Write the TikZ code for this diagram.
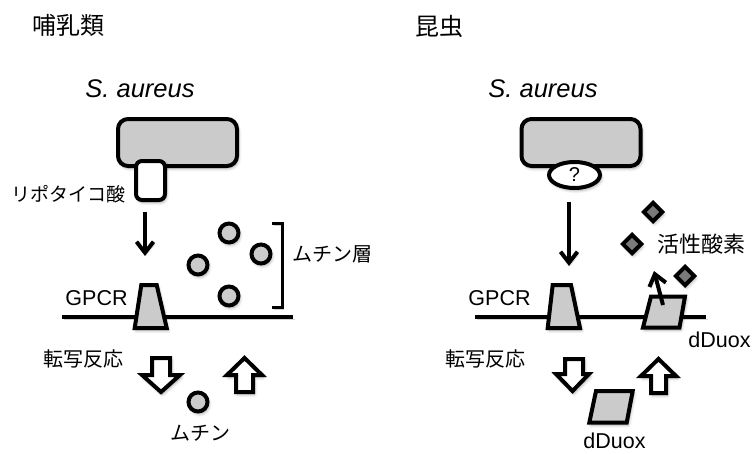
\documentclass[tikz,border=0pt]{standalone}
\usepackage{fontspec}
\setmainfont{Liberation Sans}
\newfontfamily\cjk{Noto Sans CJK JP}
\usetikzlibrary{shapes.geometric,arrows.meta,shadows.blur}
\definecolor{boxgray}{HTML}{CBCBCB}
\definecolor{dgray}{HTML}{7A7A7A}
\tikzset{
  shad/.style={blur shadow={shadow xshift=1.5pt,shadow yshift=-2.5pt,shadow blur radius=3pt,shadow opacity=35}},
  lshad/.style={preaction={draw=black,draw opacity=0.18,transform canvas={shift={(1.5pt,-2.5pt)}}}},
  bact/.style={draw,line width=4pt,fill=boxgray,rounded corners=10pt,minimum width=119pt,minimum height=47pt,inner sep=0pt,shad},
  ltabox/.style={draw,line width=4pt,fill=white,rounded corners=6pt,minimum width=29pt,minimum height=39pt,inner sep=0pt,shad},
  qell/.style={draw,line width=4pt,fill=white,ellipse,minimum width=51pt,minimum height=26pt,inner sep=0pt,shad,font=\fontsize{20}{20}\selectfont},
  mucin/.style={draw,line width=4pt,fill=boxgray,circle,minimum size=19pt,inner sep=0pt,shad},
  ros/.style={draw,line width=4pt,fill=dgray,diamond,minimum size=20pt,inner sep=0pt,shad},
  shapeline/.style={draw,line width=4pt,line join=miter,fill=boxgray,shad},
  blockarrow/.style={draw,line width=4pt,line join=miter,fill=white,shad},
  membrane/.style={line width=4pt,lshad},
  sig/.style={line width=4pt,-{Straight Barb[length=11pt,width=17pt,line width=4pt]},lshad},
  brack/.style={line width=3pt,lshad},
  jtitle/.style={font=\cjk\fontsize{24}{24}\selectfont,inner sep=0pt},
  jlab/.style={font=\cjk\fontsize{20}{20}\selectfont,inner sep=0pt},
  elab/.style={font=\fontsize{21.5}{21.5}\selectfont,inner sep=0pt},
  species/.style={font=\itshape\fontsize{25.5}{25.5}\selectfont,inner sep=0pt},
}
\begin{document}
\begin{tikzpicture}[x=1pt,y=-1pt]
\useasboundingbox (0,0) rectangle (753,453);

% ---------------- left panel: mammals ----------------
\node[jtitle] (mam) at (68,25) {哺乳類};
\node[species] (sa1) at (140,89) {S. aureus};
\draw[membrane] (62,317) coordinate (m1a) -- (293,317) coordinate (m1b);
\node[bact] (bact1) at (177.5,142.5) {};
\node[ltabox] (lta) at (150.5,180.5) {};
\node[jlab,font=\cjk\fontsize{19}{19}\selectfont] (ltalab) at (68.5,194) {リポタイコ酸};
\coordinate (a1s) at (145,212);
\coordinate (a1e) at (145,256);
\draw[sig] (a1s) -- (a1e);
\draw[shapeline] (141.3,285) -- (156.7,285) -- (166.7,328) -- (134.7,328) -- cycle;
\node[elab] (gpcr1) at (96.5,298) {GPCR};
\node[mucin] (c1) at (229,233) {};
\node[mucin] (c2) at (198,265) {};
\node[mucin] (c3) at (261,254) {};
\node[mucin] (c4) at (229,296) {};
\draw[brack] (272,223) -- (282,223) -- (282,307) -- (272,307);
\node[jlab] (mlayer) at (332,254) {ムチン層};
\node[jlab] (tr1) at (83,359) {転写反応};
\draw[blockarrow] (152,358) -- (170,358) -- (170,375) -- (180,375) -- (161,392) -- (142,375) -- (152,375) -- cycle;
\draw[blockarrow] (236,392) -- (253,392) -- (253,375) -- (262,375) -- (244.5,358) -- (227,375) -- (236,375) -- cycle;
\node[mucin] (c5) at (198,402) {};
\node[jlab] (muc) at (200,433) {ムチン};

% ---------------- right panel: insects ----------------
\node[jtitle] (ins) at (439.5,26) {昆虫};
\node[species] (sa2) at (543,89) {S. aureus};
\draw[membrane] (475,317) coordinate (m2a) -- (706,317) coordinate (m2b);
\node[bact] (bact2) at (581,142.5) {};
\node[qell] (q) at (574.5,175) {?};
\coordinate (a2s) at (569,202);
\coordinate (a2e) at (569,266);
\draw[sig] (a2s) -- (a2e);
\draw[shapeline] (552.7,285) -- (571,285) -- (580,328) -- (547.7,328) -- cycle;
\node[elab] (gpcr2) at (499.5,298) {GPCR};
\draw[shapeline] (651,296.5) -- (685,296.5) -- (679.5,327.5) -- (643,327.5) -- cycle;
\coordinate (rs) at (663,305);
\coordinate (re) at (654,271);
\draw[sig] (rs) -- (re);
\node[ros] (d1) at (653,212) {};
\node[ros] (d2) at (632,244) {};
\node[ros] (d3) at (685,276) {};
\node[jlab,font=\cjk\fontsize{22}{22}\selectfont] (roslab) at (701,244) {活性酸素};
\node[elab] (dd1) at (719.5,340) {dDuox};
\node[jlab] (tr2) at (485,359) {転写反応};
\draw[blockarrow] (565,359) -- (583,359) -- (583,374) -- (589,374) -- (572.5,391) -- (556,374) -- (565,374) -- cycle;
\draw[blockarrow] (651,393) -- (666,393) -- (666,376) -- (676,376) -- (658.5,359) -- (641,376) -- (651,376) -- cycle;
\draw[shapeline] (596,391) -- (632.7,391) -- (626.7,422.7) -- (589.3,422.7) -- cycle;
\node[elab] (dd2) at (614.5,441) {dDuox};
\end{tikzpicture}
\end{document}
